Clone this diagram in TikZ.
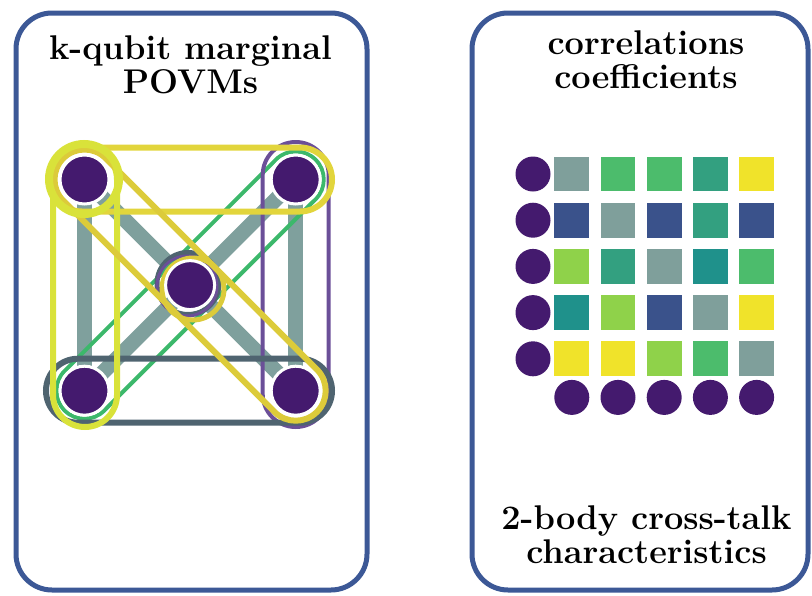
\documentclass[tikz,border=0pt]{standalone}
\usepackage{fontspec}
\definecolor{boxblue}{HTML}{3C5896}
\definecolor{qpurple}{HTML}{441A6E}
\definecolor{edgegrey}{HTML}{7FA09D}
\definecolor{lgreen}{HTML}{3CB86B}
\definecolor{darkslate}{HTML}{4F6470}
\definecolor{mpurple}{HTML}{6B4F98}
\definecolor{yA}{HTML}{E2D53C}
\definecolor{yB}{HTML}{D9E23A}
\definecolor{yC}{HTML}{DCCB3A}
\definecolor{cgrey}{HTML}{7F9F9B}
\definecolor{cgreen}{HTML}{4CBC6C}
\definecolor{ctgreen}{HTML}{33A080}
\definecolor{cteal}{HTML}{1F918B}
\definecolor{cyellow}{HTML}{F0E32A}
\definecolor{clgreen}{HTML}{8FD24A}
\definecolor{cblue}{HTML}{3A528B}
\begin{document}
\begin{tikzpicture}[x=1pt,y=-1pt,
  panel/.style={draw=boxblue,line width=5pt,rounded corners=36pt},
  title/.style={font=\fontsize{34.3}{33.5}\selectfont\bfseries,align=center,anchor=base,inner sep=0pt},
  qubit/.style={circle,fill=qpurple,draw=white,line width=3pt,minimum size=49pt,inner sep=0pt},
  gq/.style={circle,fill=qpurple,minimum size=35pt,inner sep=0pt},
  cell/.style={minimum size=34.7pt,inner sep=0pt},
  thickedge/.style={draw=edgegrey,line width=15pt},
]
\useasboundingbox (0,0) rectangle (812,595);
% panels
\draw[panel] (16,13) rectangle (367,590);
\draw[panel] (472,13) rectangle (808,590);
% titles (anchor = baseline of the last line)
\node[title] (t1) at (190.5,93) {k-qubit marginal\\POVMs};
\node[title] (t2) at (646,88) {correlations\\coefficients};
\node[title] (t3) at (646.5,563) {2-body cross-talk\\characteristics};
% qubit positions
\coordinate (ptl) at (84.5,179.5);
\coordinate (ptr) at (295.7,179.5);
\coordinate (pc) at (190.1,285.1);
\coordinate (pbl) at (84.5,390.7);
\coordinate (pbr) at (295.7,390.7);
% thick edges
\draw[thickedge] (ptl) -- (pbl);
\draw[thickedge] (ptr) -- (pbr);
\draw[thickedge] (ptl) -- (pbr);
\draw[thickedge] (ptr) -- (pbl);
% green stadium BL-TR
\begin{scope}[shift={(pbl)},rotate=45]
  \draw[lgreen,line width=4pt,rounded corners=28pt] (-28,-28) rectangle (326.7,28);
\end{scope}
% purple stadium TR-BR
\draw[mpurple,line width=4pt,rounded corners=33pt] (262.7,142) rectangle (328.7,427);
% dark slate stadium BL-BR
\draw[darkslate,line width=6pt,rounded corners=32pt] (46,358.7) rectangle (332,422.7);
% center rings
\draw[darkslate,line width=5pt] (188,283.5) circle (31);
\draw[mpurple,line width=3pt] (187,286) circle (30);
\draw[yC,line width=5pt] (193,289) circle (31);
% yellow stadium TL-TR
\draw[yA,line width=6pt,rounded corners=32pt] (50,147.5) rectangle (332,211.5);
% yellow stadium TL-BL
\draw[yB,line width=6pt,rounded corners=32pt] (53,147.5) rectangle (117,427);
% yellow stadium TL-BR diagonal
\begin{scope}[shift={(ptl)},rotate=-45]
  \draw[yC,line width=6pt,rounded corners=30pt] (-30,-30) rectangle (328.7,30);
\end{scope}
% TL ring
\draw[yB,line width=8pt] (84,179) circle (35);
% qubits
\node[qubit] (tl) at (ptl) {};
\node[qubit] (tr) at (ptr) {};
\node[qubit] (c) at (pc) {};
\node[qubit] (bl) at (pbl) {};
\node[qubit] (br) at (pbr) {};
% grid
\foreach \r in {1,...,5} {
  \node[gq] (row\r) at (533,{174+(\r-1)*46.2}) {};
}
\foreach \k in {1,...,5} {
  \node[gq] (col\k) at ({571.8+(\k-1)*46.2},397.4) {};
}
\foreach \cl [count=\k] in {cgrey,cgreen,cgreen,ctgreen,cyellow} {
  \node[cell,fill=\cl] (c1\k) at ({571.8+(\k-1)*46.2},174) {};
}
\foreach \cl [count=\k] in {cblue,cgrey,cblue,ctgreen,cblue} {
  \node[cell,fill=\cl] (c2\k) at ({571.8+(\k-1)*46.2},220.2) {};
}
\foreach \cl [count=\k] in {clgreen,ctgreen,cgrey,cteal,cgreen} {
  \node[cell,fill=\cl] (c3\k) at ({571.8+(\k-1)*46.2},266.4) {};
}
\foreach \cl [count=\k] in {cteal,clgreen,cblue,cgrey,cyellow} {
  \node[cell,fill=\cl] (c4\k) at ({571.8+(\k-1)*46.2},312.6) {};
}
\foreach \cl [count=\k] in {cyellow,cyellow,clgreen,cgreen,cgrey} {
  \node[cell,fill=\cl] (c5\k) at ({571.8+(\k-1)*46.2},358.8) {};
}
\end{tikzpicture}
\end{document}
